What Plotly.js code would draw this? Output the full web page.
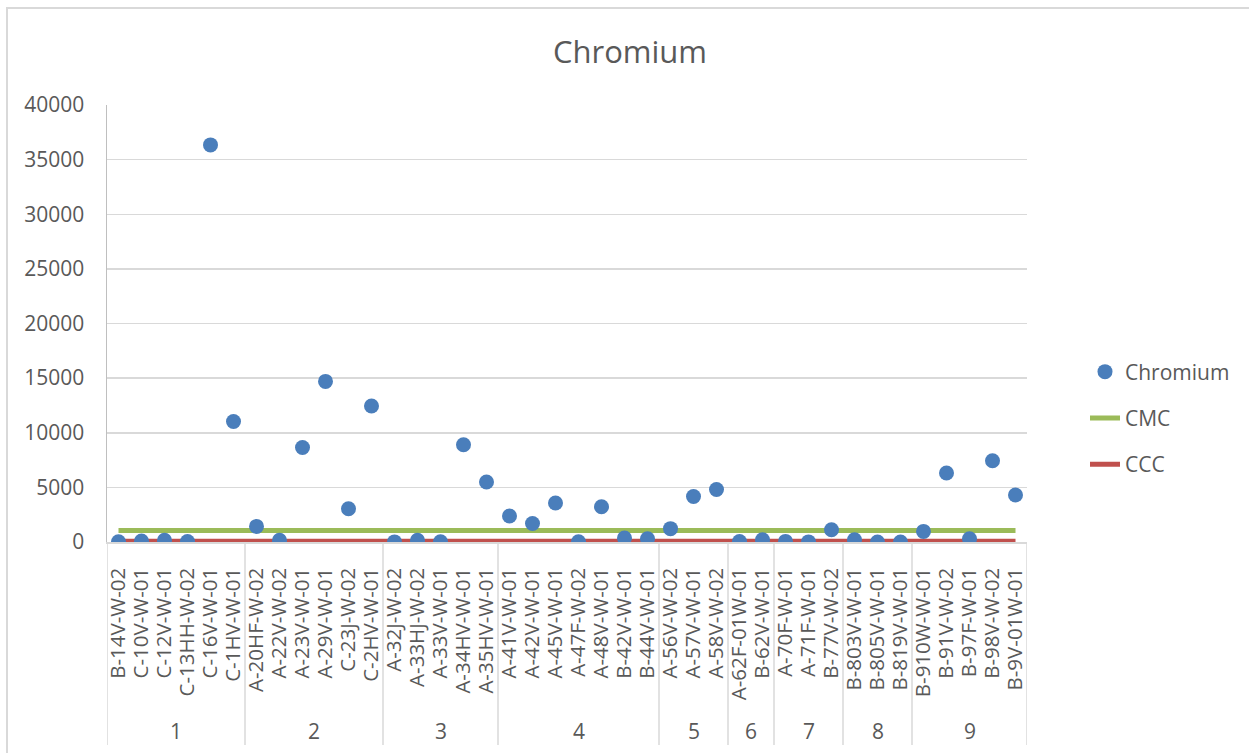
<!DOCTYPE html>
<html>
<head>
<meta charset="utf-8">
<script src="https://cdn.plot.ly/plotly-3.0.1.min.js"></script>
<style>
html,body{margin:0;padding:0;background:#fff;}
#chart{width:1249px;height:753px;}
</style>
</head>
<body>
<div id="chart"></div>
<script>
// ---- data ----
const sampleIds = [
  'B-14V-W-02','C-10V-W-01','C-12V-W-01','C-13HH-W-02','C-16V-W-01','C-1HV-W-01',
  'A-20HF-W-02','A-22V-W-02','A-23V-W-01','A-29V-W-01','C-23J-W-02','C-2HV-W-01',
  'A-32J-W-02','A-33HJ-W-02','A-33V-W-01','A-34HV-W-01','A-35HV-W-01',
  'A-41V-W-01','A-42V-W-01','A-45V-W-01','A-47F-W-02','A-48V-W-01','B-42V-W-01','B-44V-W-01',
  'A-56V-W-02','A-57V-W-01','A-58V-W-02',
  'A-62F-01W-01','B-62V-W-01',
  'A-70F-W-01','A-71F-W-01','B-77V-W-02',
  'B-803V-W-01','B-805V-W-01','B-819V-W-01',
  'B-910W-W-01','B-91V-W-02','B-97F-W-01','B-98V-W-02','B-9V-01W-01'
];
const groupNames = ['1','2','3','4','5','6','7','8','9'];
const groupSizes = [6,6,5,7,3,2,3,3,5];
const chromium = [
  20, 90, 150, 40, 36350, 11030,
  1430, 150, 8650, 14700, 3050, 12450,
  10, 150, 20, 8900, 5490,
  2380, 1700, 3570, 20, 3230, 370, 300,
  1220, 4170, 4810,
  50, 210,
  55, 10, 1125,
  210, 5, 0,
  970, 6310, 300, 7440, 4300
];
const cmcValue = 1050;
const cccValue = 74;
const yTickVals = [0,5000,10000,15000,20000,25000,30000,35000,40000];

// ---- styling ----
const FONT = 'Open Sans, Noto Sans, sans-serif';
const TXT = '#595959';
const GRID = '#d9d9d9';

const firstId = sampleIds[0];
const lastId = sampleIds[sampleIds.length - 1];

const traces = [
  {
    type: 'scatter', mode: 'lines', name: 'CMC', legendrank: 2, legendgroup: 'b',
    x: [firstId, lastId], y: [cmcValue, cmcValue],
    line: {color: '#9bbb59', width: 5}, hoverinfo: 'skip'
  },
  {
    type: 'scatter', mode: 'lines', name: 'CCC', legendrank: 3, legendgroup: 'c',
    x: [firstId, lastId], y: [cccValue, cccValue],
    line: {color: '#c0504d', width: 5}, hoverinfo: 'skip'
  },
  {
    type: 'scatter', mode: 'markers', name: 'Chromium', legendrank: 1, legendgroup: 'a',
    x: sampleIds, y: chromium,
    marker: {color: '#4a7ebb', size: 15, line: {width: 0}}
  }
];

// group dividers and labels
const plotH = 437;
const bottomY = -(745 - 542) / plotH;
const groupLabelY = -(731 - 542) / plotH;
const shapes = [];
const annotations = [];
let start = 0;
shapes.push({type:'line', xref:'x', yref:'paper', x0:-0.5, x1:-0.5, y0:0, y1:bottomY, line:{color:GRID, width:1.5}});
groupSizes.forEach((n, gi) => {
  const end = start + n;
  shapes.push({type:'line', xref:'x', yref:'paper', x0:end-0.5, x1:end-0.5, y0:0, y1:bottomY, line:{color:GRID, width:1.5}});
  annotations.push({
    xref:'x', yref:'paper', x: start + (n-1)/2, y: groupLabelY,
    text: groupNames[gi], showarrow:false, xanchor:'center', yanchor:'middle',
    font:{family:FONT, size:21, color:TXT}
  });
  start = end;
});
// chart frame
shapes.push({type:'rect', xref:'paper', yref:'paper',
  x0:(7-107)/920, x1:(1260-107)/920, y0:(542-770)/plotH, y1:(542-8)/plotH,
  line:{color:GRID, width:2}, fillcolor:'rgba(0,0,0,0)', layer:'below'});

const layout = {
  width: 1249, height: 753,
  margin: {l:107, r:222, t:105, b:211, pad:0},
  paper_bgcolor:'#ffffff', plot_bgcolor:'#ffffff',
  font: {family: FONT, size: 21, color: TXT},
  title: {text:'Chromium', font:{family:FONT, size:31, color:TXT},
          x:630/1249, xref:'container', xanchor:'center', y:1-52/753, yref:'container', yanchor:'middle'},
  xaxis: {
    type:'category', categoryorder:'array', categoryarray:sampleIds,
    tickmode:'array', tickvals:sampleIds, ticktext:sampleIds,
    range:[-0.5, sampleIds.length-0.5],
    tickangle:-90, showgrid:false, zeroline:false,
    showline:true, linecolor:GRID, linewidth:1.5,
    ticks:'', ticklabelstandoff:16,
    tickfont:{family:FONT, size:20.5, color:TXT}, fixedrange:true
  },
  yaxis: {
    range:[0, 40000], tickvals:yTickVals, tickformat:'d',
    showgrid:true, gridcolor:GRID, gridwidth:1.5, zeroline:false,
    showline:true, linecolor:'#bfbfbf', linewidth:1.5,
    ticks:'', ticklabelstandoff:17,
    tickfont:{family:FONT, size:21, color:TXT}, fixedrange:true
  },
  showlegend:true,
  legend: {
    x:(1085-107)/920, xanchor:'left', y:(542-418)/plotH, yanchor:'middle',
    traceorder:'grouped', tracegroupgap:16,
    font:{family:FONT, size:21, color:TXT}, bgcolor:'rgba(0,0,0,0)', borderwidth:0
  },
  shapes: shapes,
  annotations: annotations
};

Plotly.newPlot('chart', traces, layout, {staticPlot:true, displayModeBar:false});
</script>
</body>
</html>
